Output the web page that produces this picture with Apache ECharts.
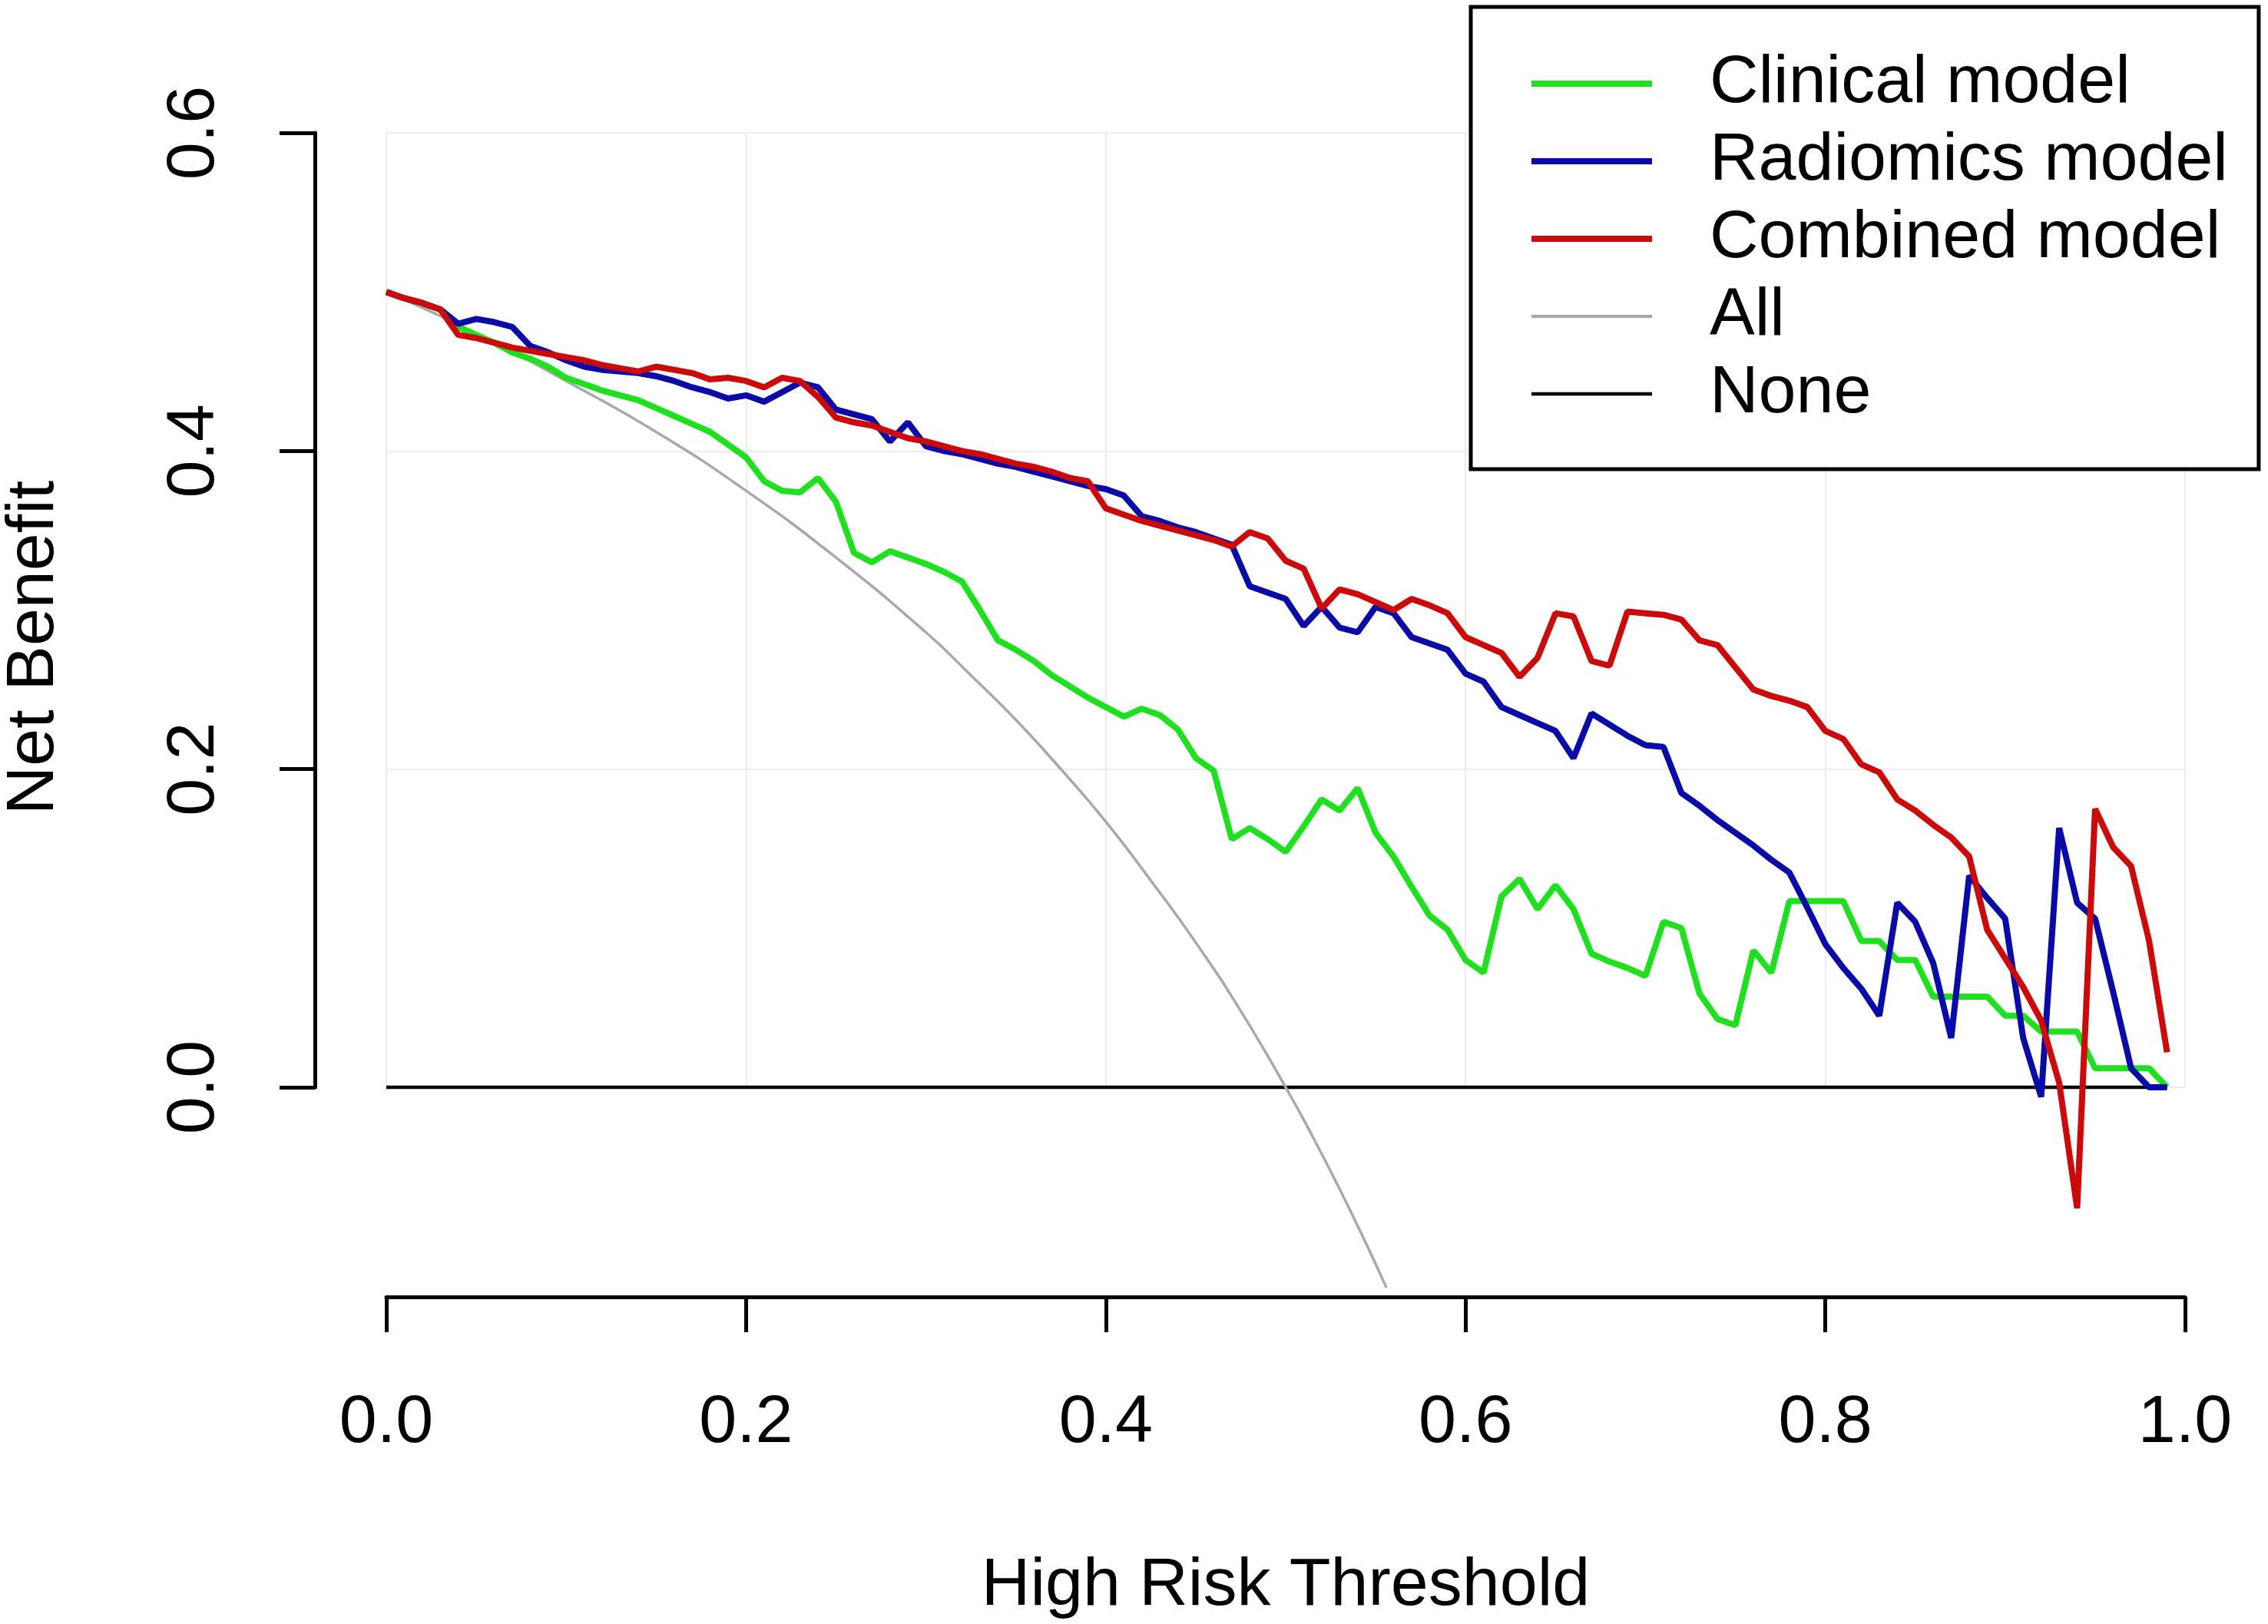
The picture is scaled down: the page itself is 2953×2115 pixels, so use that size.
<!DOCTYPE html>
<html>
<head>
<meta charset="utf-8">
<title>Net Benefit</title>
<script src="https://cdn.jsdelivr.net/npm/echarts@6/dist/echarts.min.js"></script>
<style>
    html, body {margin: 0; padding: 0; background: #fff;}
    #main {width: 2953px; height: 2115px;}
</style>
</head>
<body>
<div id="main"></div>
<script>
// thresholds 0.00 .. 0.99
var thresholds = [];
for (var i = 0; i < 100; i++) {
    thresholds.push(i / 100);
}

var clinical = [
    0.500, 0.496, 0.493, 0.489, 0.478, 0.473, 0.468, 0.462, 0.458, 0.453,
    0.446, 0.442, 0.438, 0.435, 0.432, 0.427, 0.422, 0.417, 0.412, 0.404,
    0.396, 0.381, 0.375, 0.374, 0.383, 0.368, 0.336, 0.330, 0.337, 0.333,
    0.329, 0.324, 0.318, 0.300, 0.281, 0.275, 0.268, 0.259, 0.252, 0.245,
    0.239, 0.233, 0.238, 0.234, 0.225, 0.207, 0.199, 0.156, 0.163, 0.156,
    0.148, 0.164, 0.181, 0.174, 0.188, 0.160, 0.145, 0.126, 0.108, 0.099,
    0.080, 0.072, 0.120, 0.131, 0.112, 0.127, 0.112, 0.084, 0.079, 0.075,
    0.070, 0.104, 0.100, 0.059, 0.043, 0.039, 0.086, 0.072, 0.117, 0.117,
    0.117, 0.117, 0.092, 0.092, 0.080, 0.080, 0.057, 0.057, 0.057, 0.057,
    0.045, 0.045, 0.035, 0.035, 0.035, 0.012, 0.012, 0.012, 0.012, 0.000
];
var radiomics = [
    0.500, 0.496, 0.493, 0.489, 0.480, 0.483, 0.481, 0.478, 0.466, 0.462,
    0.457, 0.453, 0.451, 0.450, 0.449, 0.447, 0.444, 0.440, 0.437, 0.433,
    0.435, 0.431, 0.437, 0.443, 0.440, 0.426, 0.423, 0.420, 0.406, 0.418,
    0.403, 0.400, 0.398, 0.395, 0.392, 0.390, 0.387, 0.384, 0.381, 0.378,
    0.376, 0.372, 0.359, 0.356, 0.352, 0.349, 0.345, 0.341, 0.315, 0.311,
    0.307, 0.290, 0.302, 0.289, 0.286, 0.302, 0.298, 0.283, 0.279, 0.275,
    0.260, 0.255, 0.239, 0.234, 0.229, 0.224, 0.207, 0.235, 0.228, 0.221,
    0.215, 0.214, 0.185, 0.177, 0.168, 0.160, 0.152, 0.143, 0.135, 0.113,
    0.090, 0.075, 0.062, 0.045, 0.116, 0.104, 0.078, 0.031, 0.133, 0.119,
    0.106, 0.031, -0.006, 0.163, 0.116, 0.106, 0.060, 0.012, 0.000, 0.000
];
var combined = [
    0.500, 0.496, 0.493, 0.489, 0.473, 0.471, 0.468, 0.465, 0.463, 0.461,
    0.459, 0.457, 0.454, 0.452, 0.450, 0.453, 0.451, 0.449, 0.445, 0.446,
    0.444, 0.440, 0.446, 0.444, 0.434, 0.421, 0.418, 0.416, 0.412, 0.408,
    0.406, 0.403, 0.400, 0.398, 0.395, 0.392, 0.390, 0.387, 0.383, 0.381,
    0.364, 0.360, 0.356, 0.353, 0.350, 0.347, 0.344, 0.340, 0.349, 0.345,
    0.331, 0.326, 0.301, 0.313, 0.310, 0.305, 0.300, 0.307, 0.303, 0.298,
    0.283, 0.278, 0.273, 0.258, 0.270, 0.298, 0.296, 0.268, 0.265, 0.299,
    0.298, 0.297, 0.294, 0.281, 0.278, 0.264, 0.250, 0.246, 0.243, 0.239,
    0.224, 0.219, 0.203, 0.198, 0.181, 0.174, 0.165, 0.157, 0.145, 0.099,
    0.081, 0.063, 0.042, 0.003, -0.076, 0.175, 0.151, 0.139, 0.092, 0.022
];
// treat-all curve, cut where it leaves the plot
var allX = [0, 0.05, 0.10, 0.15, 0.20, 0.25, 0.30, 0.325, 0.35, 0.375, 0.40, 0.425, 0.45, 0.475, 0.50, 0.515, 0.53, 0.545, 0.556];
var allY = [0.500, 0.474, 0.444, 0.412, 0.375, 0.333, 0.286, 0.259, 0.231, 0.200, 0.167, 0.130, 0.091, 0.048, 0.000, -0.031, -0.064, -0.099, -0.126];
// treat-none line
var noneX = [0, 0.99];
var noneY = [0, 0];

function pairs(xs, ys) {
    var out = [];
    for (var k = 0; k < xs.length; k++) {
        out.push([xs[k], ys[k]]);
    }
    return out;
}

function oneDecimal(value) {
    return value.toFixed(1);
}

var font = '"Liberation Sans", Arial, Helvetica, sans-serif';

var myChart = echarts.init(document.getElementById('main'), null, {renderer: 'canvas'});

var option = {
    backgroundColor: '#fff',
    textStyle: {fontFamily: font},
    animation: false,
    grid: {left: 503, right: 108, top: 173, bottom: 699, outerBoundsMode: 'none'},
    legend: {
        orient: 'vertical',
        left: 1915,
        top: 9,
        padding: [50, 40, 48, 75],
        backgroundColor: '#fff',
        borderColor: '#000',
        borderWidth: 5,
        borderRadius: 0,
        itemWidth: 157,
        itemHeight: 1,
        itemGap: 1,
        lineStyle: {width: 'inherit'},
        data: [
            {name: 'Clinical model', lineStyle: {width: 8}},
            {name: 'Radiomics model', lineStyle: {width: 8}},
            {name: 'Combined model', lineStyle: {width: 8}},
            {name: 'All', lineStyle: {width: 4}},
            {name: 'None', lineStyle: {width: 4.5}}
        ],
        textStyle: {
            fontFamily: font,
            fontSize: 88,
            lineHeight: 100,
            color: '#000',
            padding: [0, 0, 0, 70]
        }
    },
    xAxis: {
        type: 'value',
        min: 0,
        max: 1,
        interval: 0.2,
        offset: 273,
        name: 'High Risk Threshold',
        nameLocation: 'middle',
        nameGap: 333,
        nameTextStyle: {fontFamily: font, fontSize: 88, color: '#000'},
        axisLine: {show: true, onZero: false, lineStyle: {color: '#000', width: 5}},
        axisTick: {show: true, length: 46, lineStyle: {color: '#000', width: 5}},
        axisLabel: {
            margin: 121,
            fontFamily: font,
            fontSize: 88,
            color: '#000',
            formatter: oneDecimal
        },
        splitLine: {show: true, lineStyle: {color: '#ececec', width: 2}}
    },
    yAxis: {
        type: 'value',
        min: 0,
        max: 0.6,
        interval: 0.2,
        offset: 93,
        name: 'Net Benefit',
        nameLocation: 'middle',
        nameGap: 321,
        nameTextStyle: {fontFamily: font, fontSize: 88, color: '#000', padding: [0, 98, 0, 0]},
        axisLine: {show: true, onZero: false, lineStyle: {color: '#000', width: 5}},
        axisTick: {show: true, length: 46, lineStyle: {color: '#000', width: 5}},
        axisLabel: {
            margin: 112,
            rotate: 90,
            fontFamily: font,
            fontSize: 88,
            color: '#000',
            formatter: oneDecimal
        },
        splitLine: {show: true, lineStyle: {color: '#ececec', width: 2}}
    },
    series: [
        {
            name: 'None',
            type: 'line',
            data: pairs(noneX, noneY),
            symbol: 'none',
            clip: false,
            lineStyle: {color: '#000', width: 4.5},
            itemStyle: {color: '#000'}
        },
        {
            name: 'All',
            type: 'line',
            data: pairs(allX, allY),
            symbol: 'none',
            smooth: true,
            clip: false,
            lineStyle: {color: '#a8a8a8', width: 3.5},
            itemStyle: {color: '#a8a8a8'}
        },
        {
            name: 'Clinical model',
            type: 'line',
            data: pairs(thresholds, clinical),
            symbol: 'none',
            clip: false,
            lineStyle: {color: '#1fe01f', width: 8},
            itemStyle: {color: '#1fe01f'}
        },
        {
            name: 'Radiomics model',
            type: 'line',
            data: pairs(thresholds, radiomics),
            symbol: 'none',
            clip: false,
            lineStyle: {color: '#0a0aa8', width: 8},
            itemStyle: {color: '#0a0aa8'}
        },
        {
            name: 'Combined model',
            type: 'line',
            data: pairs(thresholds, combined),
            symbol: 'none',
            clip: false,
            lineStyle: {color: '#cc0a0a', width: 8},
            itemStyle: {color: '#cc0a0a'}
        }
    ]
};

myChart.setOption(option);
</script>
</body>
</html>
